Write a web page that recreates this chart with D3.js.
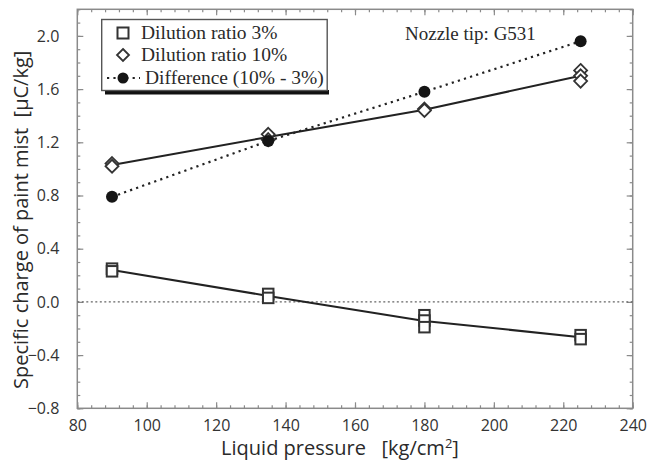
<!DOCTYPE html>
<html>
<head>
<meta charset="utf-8">
<script src="https://cdn.jsdelivr.net/npm/d3@7"></script>
<style>
  html, body { margin: 0; padding: 0; background: #fff; }
  svg { display: block; }
  .sans { font-family: "Open Sans", "Liberation Sans", sans-serif; }
  .serif { font-family: "Liberation Serif", "Times New Roman", serif; }
</style>
</head>
<body>
<svg id="chart" width="657" height="469"></svg>
<script>
// Liquid pressure settings (kg/cm^2)
const pressure = [90, 135, 180, 225];
// Repeated measurements of specific charge (µC/kg) at each pressure
const ratio3 = [[0.25, 0.23], [0.06, 0.03], [-0.10, -0.14, -0.19], [-0.25, -0.28]];
const ratio10 = [[1.04, 1.02], [1.26, 1.22], [1.45, 1.44], [1.74, 1.70, 1.66]];
// Difference of the means (10% - 3%)
const difference = [0.79, 1.21, 1.58, 1.96];

const xTicks = [80, 100, 120, 140, 160, 180, 200, 220, 240];
const yTicks = [-0.8, -0.4, 0.0, 0.4, 0.8, 1.2, 1.6, 2.0];

const svg = d3.select("#chart");
const plotL = 77.3, plotR = 632.7, plotT = 9.3, plotB = 408.3;

const x = d3.scaleLinear().domain([80, 240]).range([plotL, plotR]);
const y = d3.scaleLinear().domain([-0.8, 2.2]).range([plotB, plotT]);

const frameColor = "#8a8a8a";
const textColor = "#2a2a2a";

// Plot frame
svg.append("rect")
  .attr("x", plotL).attr("y", plotT)
  .attr("width", plotR - plotL).attr("height", plotB - plotT)
  .attr("fill", "none").attr("stroke", frameColor).attr("stroke-width", 1.5);

// Inward ticks on all four sides: majors with labels, minors unlabelled
const xMinor = d3.range(80, 240.001, 4);
const yMinor = d3.range(-0.8, 2.2001, 0.1);

function styleAxis(g) {
  g.select(".domain").remove();
  g.selectAll(".tick line").attr("stroke", frameColor).attr("stroke-width", 1.2);
}

svg.append("g").attr("transform", `translate(0,${plotB})`)
  .call(d3.axisBottom(x).tickValues(xMinor).tickSize(-3).tickFormat("")).call(styleAxis);
svg.append("g").attr("transform", `translate(0,${plotT})`)
  .call(d3.axisTop(x).tickValues(xMinor).tickSize(-3).tickFormat("")).call(styleAxis);
svg.append("g").attr("transform", `translate(${plotL},0)`)
  .call(d3.axisLeft(y).tickValues(yMinor).tickSize(-3).tickFormat("")).call(styleAxis);
svg.append("g").attr("transform", `translate(${plotR},0)`)
  .call(d3.axisRight(y).tickValues(yMinor).tickSize(-3).tickFormat("")).call(styleAxis);

const xAxis = svg.append("g").attr("transform", `translate(0,${plotB})`)
  .call(d3.axisBottom(x).tickValues(xTicks).tickSize(-6).tickPadding(11).tickFormat(d3.format("d")))
  .call(styleAxis);
svg.append("g").attr("transform", `translate(0,${plotT})`)
  .call(d3.axisTop(x).tickValues(xTicks).tickSize(-6).tickFormat("")).call(styleAxis);
const yAxis = svg.append("g").attr("transform", `translate(${plotL},0)`)
  .call(d3.axisLeft(y).tickValues(yTicks).tickSize(-6).tickPadding(18).tickFormat(d3.format(".1f")))
  .call(styleAxis);
svg.append("g").attr("transform", `translate(${plotR},0)`)
  .call(d3.axisRight(y).tickValues(yTicks).tickSize(-6).tickFormat("")).call(styleAxis);

[xAxis, yAxis].forEach(g => g.selectAll(".tick text")
  .attr("class", "sans").attr("font-size", 16).attr("fill", "#333"));
yAxis.selectAll(".tick text").text(d => d3.format(".1f")(d).replace("-", "\u2212"));

// Zero reference line
svg.append("line")
  .attr("x1", plotL).attr("x2", plotR).attr("y1", y(0)).attr("y2", y(0))
  .attr("stroke", "#666").attr("stroke-width", 1.4).attr("stroke-dasharray", "2,2.5");

// Connecting lines through the mean of each group
const mean3 = ratio3.map(v => d3.mean(v));
const mean10 = ratio10.map(v => d3.mean(v));
const line = d3.line().x(d => x(d[0])).y(d => y(d[1]));

svg.append("path").datum(pressure.map((p, i) => [p, mean3[i]]))
  .attr("d", line).attr("fill", "none").attr("stroke", "#222").attr("stroke-width", 2);
svg.append("path").datum(pressure.map((p, i) => [p, mean10[i]]))
  .attr("d", line).attr("fill", "none").attr("stroke", "#222").attr("stroke-width", 2);
svg.append("path").datum(pressure.map((p, i) => [p, difference[i]]))
  .attr("d", line).attr("fill", "none").attr("stroke", "#222").attr("stroke-width", 2.2)
  .attr("stroke-dasharray", "2.2,4.2");

// Markers
const pts3 = pressure.flatMap((p, i) => ratio3[i].map(v => [p, v]));
const pts10 = pressure.flatMap((p, i) => ratio10[i].map(v => [p, v]));
const sq = 10.5;

svg.append("g").selectAll("rect").data(pts3).join("rect")
  .attr("x", d => x(d[0]) - sq / 2).attr("y", d => y(d[1]) - sq / 2)
  .attr("width", sq).attr("height", sq)
  .attr("fill", "#fff").attr("stroke", "#333").attr("stroke-width", 2);

const diamond = (cx, cy, r) => `M${cx},${cy - r}L${cx + r},${cy}L${cx},${cy + r}L${cx - r},${cy}Z`;
svg.append("g").selectAll("path").data(pts10).join("path")
  .attr("d", d => diamond(x(d[0]), y(d[1]), 6.5))
  .attr("fill", "#fff").attr("stroke", "#333").attr("stroke-width", 1.8);

svg.append("g").selectAll("circle").data(pressure.map((p, i) => [p, difference[i]])).join("circle")
  .attr("cx", d => x(d[0])).attr("cy", d => y(d[1])).attr("r", 6)
  .attr("fill", "#151515");

// Legend
const lg = svg.append("g");
lg.append("rect").attr("x", 105).attr("y", 90).attr("width", 224).attr("height", 4.5).attr("fill", "#111");
lg.append("rect").attr("x", 101.7).attr("y", 19.5).attr("width", 225.5).attr("height", 71)
  .attr("fill", "#fff").attr("stroke", "#555").attr("stroke-width", 1.4);

const legendItems = [
  { label: "Dilution ratio 3%", cy: 33, tx: 141 },
  { label: "Dilution ratio 10%", cy: 55, tx: 141 },
  { label: "Difference (10% - 3%)", cy: 78, tx: 145 }
];
lg.append("rect").attr("x", 123 - 5.5).attr("y", legendItems[0].cy - 5.5).attr("width", 11).attr("height", 11)
  .attr("fill", "#fff").attr("stroke", "#333").attr("stroke-width", 2);
lg.append("path").attr("d", diamond(123, legendItems[1].cy, 6))
  .attr("fill", "#fff").attr("stroke", "#333").attr("stroke-width", 1.8);
lg.append("line").attr("x1", 107).attr("x2", 140).attr("y1", legendItems[2].cy).attr("y2", legendItems[2].cy)
  .attr("stroke", "#222").attr("stroke-width", 2.2).attr("stroke-dasharray", "2.2,4.2");
lg.append("circle").attr("cx", 123).attr("cy", legendItems[2].cy).attr("r", 5.5).attr("fill", "#151515");

lg.selectAll("text").data(legendItems).join("text")
  .attr("class", "serif").attr("x", d => d.tx).attr("y", d => d.cy + 6)
  .attr("font-size", 19.5).attr("fill", textColor).text(d => d.label);

svg.append("text").attr("class", "serif").attr("x", 405).attr("y", 40)
  .attr("font-size", 19).attr("fill", textColor).text("Nozzle tip: G531");

// Axis titles
const xt = svg.append("text").attr("class", "sans").attr("x", 340).attr("y", 455)
  .attr("text-anchor", "middle").attr("font-size", 20).attr("fill", textColor);
xt.append("tspan").text("Liquid pressure\u00a0\u00a0\u00a0[kg/cm");
xt.append("tspan").attr("dy", -7).attr("font-size", 13).text("2");
xt.append("tspan").attr("dy", 7).text("]");

svg.append("text").attr("class", "sans")
  .attr("transform", `translate(28,${(plotT + plotB) / 2 + 11}) rotate(-90)`)
  .attr("text-anchor", "middle").attr("font-size", 20).attr("fill", textColor)
  .text("Specific charge of paint mist\u00a0\u00a0[\u03bcC/kg]");
</script>
</body>
</html>
